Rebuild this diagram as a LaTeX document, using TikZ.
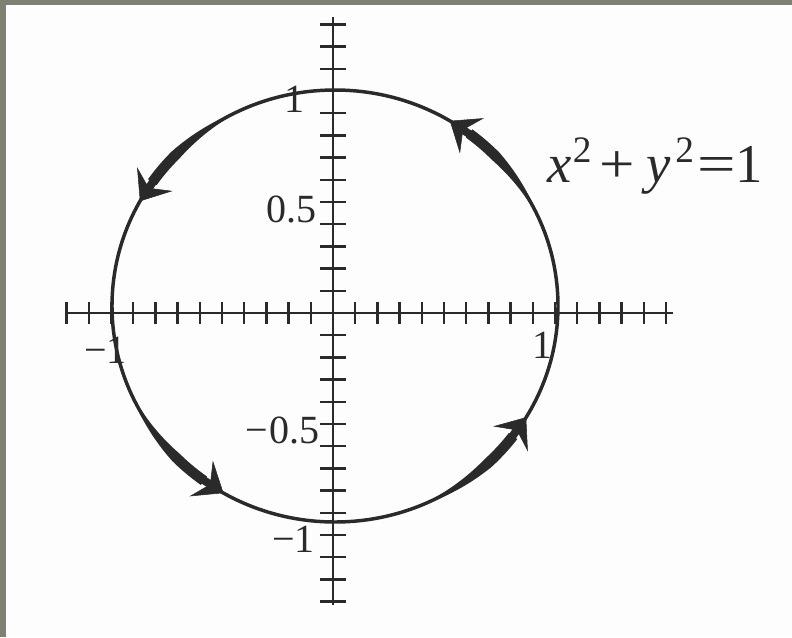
\documentclass[tikz,border=0pt]{standalone}
\usepackage{fontspec}
\setmainfont{Liberation Serif}
\usetikzlibrary{arrows.meta,calc}
\definecolor{ink}{RGB}{42,42,42}
\definecolor{framecol}{RGB}{125,129,114}
\definecolor{paper}{RGB}{253,253,253}
\begin{document}
\begin{tikzpicture}[x=0.75pt,y=0.75pt,
  axisline/.style={ink, line width=2.2pt},
  tickmark/.style={ink, line width=1.8pt},
  curve/.style={ink, line width=2.6pt},
  band/.style={fill=ink},
  headarrow/.style={ink, line width=6pt, -{Stealth[length=20pt,width=32pt,inset=8pt,line width=0.4pt]}},
  ticklabel/.style={inner sep=0pt, font=\fontsize{30}{30}\selectfont, text=ink},
  eqlabel/.style={inner sep=0pt, font=\fontsize{41}{41}\selectfont, text=ink},
]
% frame and paper
\fill[framecol] (-333,-324) rectangle (459,313);
\fill[paper] (-327,-324) rectangle (459,308);
\useasboundingbox (-333,-324) rectangle (459,313);

% axes
\coordinate (O) at (0,0);
\coordinate (xl) at (-265,0);
\coordinate (xr) at (340,0);
\coordinate (yb) at (0,-292);
\coordinate (yt) at (0,296);
\draw[axisline] (xl) -- (xr);
\draw[axisline] (yb) -- (yt);
\foreach \i in {-12,...,-1,1,2,...,15} {
  \draw[tickmark] (\i*22.2,-11) -- (\i*22.2,11);
}
\foreach \i in {-13,...,-1,1,2,...,13} {
  \draw[tickmark] (-13,\i*22.2) -- (13,\i*22.2);
}

% circle
\coordinate (C) at (2,7);
\draw[curve] (C) ellipse [x radius=223, y radius=216];

% thick direction arrows along the circle
\foreach \a/\b/\c in {29/53/59, 120/145/151, 209/234/240, 297/323/329} {
  \fill[band] plot[domain=\a:\b, samples=30, variable=\t]
      ({2+(223+1.4+3.8*min(1,1.6*(\t-\a)/(\b-\a)))*cos(\t)}, {7+(216+1.4+3.8*min(1,1.6*(\t-\a)/(\b-\a)))*sin(\t)})
    -- plot[domain=\b:\a, samples=30, variable=\t]
      ({2+(223-1.4-3.8*min(1,1.6*(\t-\a)/(\b-\a)))*cos(\t)}, {7+(216-1.4-3.8*min(1,1.6*(\t-\a)/(\b-\a)))*sin(\t)})
    -- cycle;
  \draw[headarrow] ({2+223*cos(\c-8)},{7+216*sin(\c-8)}) -- ({2+223*cos(\c)},{7+216*sin(\c)});
}

% tick labels
\node[ticklabel, anchor=base east] (ly1) at (-28,201) {1};
\node[ticklabel, anchor=base east] (ly05) at (-16,91) {0.5};
\node[ticklabel, anchor=base east] (lym05) at (-13,-130) {−\kern1pt0.5};
\node[ticklabel, anchor=base east] (lym1) at (-18,-239) {−1};
\node[ticklabel, anchor=base east] (lxm1) at (-206,-50) {−1};
\node[ticklabel, anchor=base east] (lx1) at (220,-45) {1};

% equation
\node[eqlabel, anchor=base west] (eq) at (214,131)
  {\textit{x}\kern1pt\raisebox{15pt}{\fontsize{28}{28}\selectfont 2}\kern6pt\scalebox{1.15}[1]{+}\kern9pt\textit{y}\kern3pt\raisebox{15pt}{\fontsize{28}{28}\selectfont 2}\kern3pt\scalebox{1.25}[1]{=}\kern-1pt1};
\end{tikzpicture}
\end{document}
